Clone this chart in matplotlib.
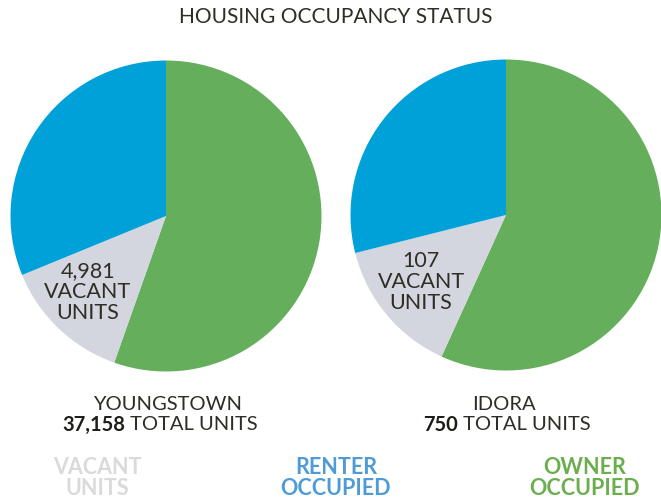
import matplotlib
matplotlib.use("Agg")
import matplotlib.pyplot as plt

plt.rcParams['font.family'] = ['Lato', 'DejaVu Sans']

# data
segments = ["Owner occupied", "Vacant units", "Renter occupied"]
places = ["YOUNGSTOWN", "IDORA"]
totals = ["37,158", "750"]
youngstown = [20586, 4981, 11591]
idora = [426, 107, 217]
vacant_labels = ["4,981", "107"]

colors = ["#64AE5C", "#D3D6DE", "#00A0D8"]
text_col = "#2E2E26"

W, H = 661, 504
fig = plt.figure(figsize=(W / 100, H / 100), dpi=100)


def fx(x):
    return x / W


def fy(y):
    return 1 - y / H


def pie_axes(cx, cy, r):
    return fig.add_axes([fx(cx - r), (H - cy - r) / H, 2 * r / W, 2 * r / H])


ax1 = pie_axes(166, 216, 155.5)
ax2 = pie_axes(506, 215, 155.5)

for ax, vals in zip([ax1, ax2], [youngstown, idora]):
    ax.pie(vals, colors=colors, startangle=90, counterclock=False,
           wedgeprops=dict(linewidth=0))
    ax.set_xlim(-1, 1)
    ax.set_ylim(-1, 1)
    ax.set_aspect("equal")
    ax.axis("off")

# vacant labels inside the grey wedge
for (x, y0), lab in zip([(88, 271), (421, 261)], vacant_labels):
    for i, t in enumerate([lab, "VACANT", "UNITS"]):
        fig.text(fx(x), fy(y0 + 21 * i), t, ha="center", va="center",
                 fontsize=15.5, color=text_col)

fig.text(fx(336), fy(17), "HOUSING OCCUPANCY STATUS", ha="center",
         va="center", fontsize=15, color=text_col)

# place names and totals
fig.canvas.draw()
for x, name, left, tot in zip([168, 504], places, [62, 423], totals):
    fig.text(fx(x), fy(405), name, ha="center", va="center", fontsize=14.5,
             color=text_col)
    b = fig.text(fx(left), fy(425), tot, ha="left", va="center",
                 fontsize=14.5, color="#1E1E18", fontweight="bold")
    bb = b.get_window_extent(renderer=fig.canvas.get_renderer())
    fig.text(bb.x1 / W, fy(425), " TOTAL UNITS", ha="left", va="center",
             fontsize=14.5, color=text_col)

# legend text
legend = [("VACANT\nUNITS", 97, "#DADADA"),
          ("RENTER\nOCCUPIED", 336, "#4F9BD6"),
          ("OWNER\nOCCUPIED", 585, "#6AAE4E")]
for txt, x, c in legend:
    fig.text(fx(x), fy(478), txt, ha="center", va="center", fontsize=15.5,
             color=c, fontweight="bold", linespacing=1.0)

fig.savefig("out.png", dpi=100)
